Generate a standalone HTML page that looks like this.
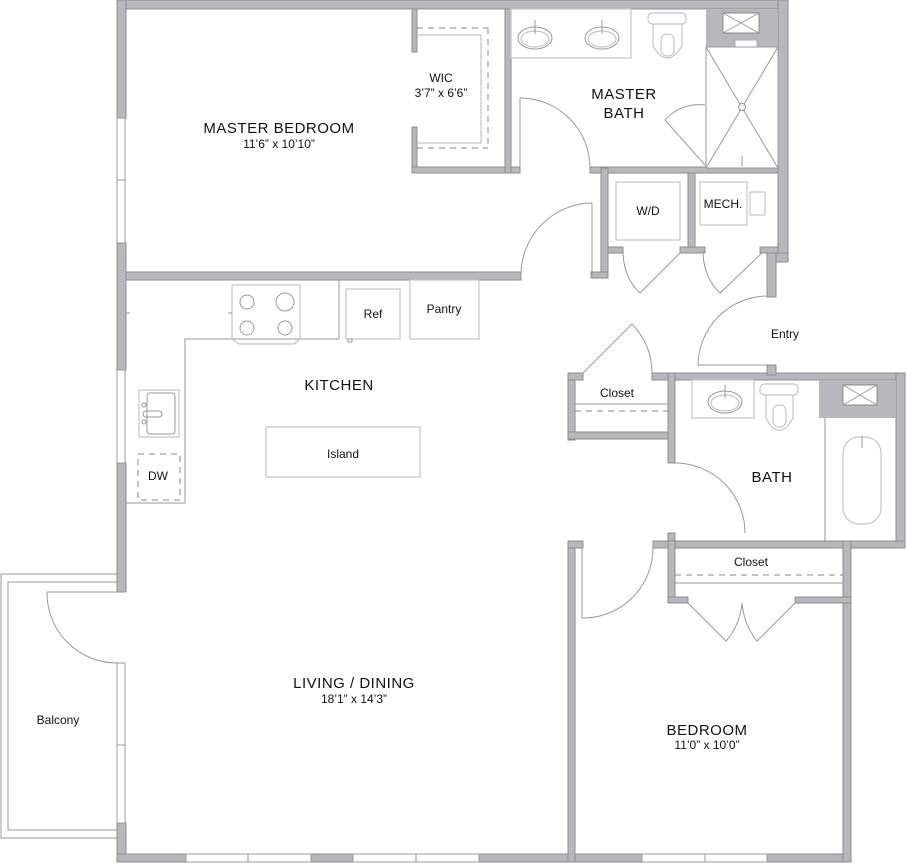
<!DOCTYPE html>
<html><head><meta charset="utf-8"><style>
html,body{margin:0;padding:0;background:#fff;}
svg{display:block;}
text{font-family:"Liberation Sans",sans-serif;fill:#111;text-anchor:middle;}
.w{fill:#b8b8bc;stroke:#8e8e92;stroke-width:1;}
.l{fill:none;stroke:#999;stroke-width:1;}
.lt{fill:none;stroke:#c4c4c4;stroke-width:1.2;}
.win{fill:#fff;stroke:#999;stroke-width:1;}
.d{fill:none;stroke:#888;stroke-width:1;stroke-dasharray:6,5;}
.big{font-size:15px;letter-spacing:0.5px;}
.sm{font-size:12px;}
</style></head><body>
<svg width="906" height="864" viewBox="0 0 906 864" xmlns="http://www.w3.org/2000/svg">
<!-- balcony -->
<path d="M117,574 H1 V838 H117" class="l" stroke-width="1.3"/>
<path d="M117,582 H8 V830 H117" class="l" stroke-width="1.3"/>
<!-- outer walls -->
<rect x="117" y="0" width="671" height="9" class="w"/>
<rect x="117" y="0" width="9" height="118" class="w"/>
<rect x="117" y="243" width="9" height="127" class="w"/>
<rect x="117" y="463" width="9" height="129" class="w"/>
<rect x="117" y="823" width="9" height="39" class="w"/>
<rect x="117" y="118" width="8" height="125" class="win"/><line x1="117" y1="180" x2="125" y2="180" class="l"/>
<rect x="117" y="370" width="8" height="93" class="win"/>
<rect x="117" y="663" width="8" height="160" class="win"/><line x1="117" y1="745" x2="125" y2="745" class="l"/>
<rect x="117" y="854" width="734" height="8" class="w"/>
<rect x="186" y="854" width="125" height="8" class="win"/><line x1="248" y1="854" x2="248" y2="862" class="l"/>
<rect x="353" y="854" width="126" height="8" class="win"/><line x1="416" y1="854" x2="416" y2="862" class="l"/>
<rect x="642" y="854" width="125" height="8" class="win"/><line x1="705" y1="854" x2="705" y2="862" class="l"/>
<rect x="778" y="0" width="10" height="262" class="w"/>
<rect x="767" y="253" width="21" height="9" class="w"/>
<rect x="767" y="253" width="9" height="44" class="w"/>
<!-- master bedroom bottom wall -->
<rect x="126" y="272" width="395" height="8" class="w"/>
<!-- WIC walls -->
<rect x="412" y="9" width="5" height="43" class="w"/>
<rect x="412" y="127" width="5" height="46" class="w"/>
<rect x="412" y="167" width="108" height="6" class="w"/>
<rect x="505" y="9" width="6" height="164" class="w"/>
<line x1="417" y1="28" x2="488" y2="28" class="d"/>
<line x1="488" y1="28" x2="488" y2="148" class="d"/>
<line x1="417" y1="148" x2="488" y2="148" class="d"/>
<path d="M417,35 H481 V143 H417" class="lt"/>
<!-- master bath -->
<rect x="590" y="167" width="188" height="6" class="w"/>
<rect x="511" y="9" width="120" height="49" class="lt" stroke="#aaa"/>
<ellipse cx="535" cy="38" rx="17" ry="11" class="l"/><ellipse cx="535" cy="39" rx="14" ry="8" class="lt"/>
<line x1="535" y1="20" x2="535" y2="34" class="l" stroke-width="2"/>
<ellipse cx="602" cy="38" rx="17" ry="11" class="l"/><ellipse cx="602" cy="39" rx="14" ry="8" class="lt"/>
<line x1="602" y1="20" x2="602" y2="34" class="l" stroke-width="2"/>
<rect x="648" y="13" width="38" height="11" rx="4" class="lt" stroke="#aaa"/>
<path d="M653,24 V46 Q667,70 682,46 V24" class="lt" stroke="#aaa"/>
<rect x="661" y="34" width="13" height="22" rx="6" class="lt"/>
<rect x="706" y="9" width="72" height="38" fill="#b8b8bc"/>
<rect x="723" y="13" width="36" height="20" fill="#fff" stroke="#888"/>
<path d="M723,13 L759,33 M759,13 L723,33" class="l"/>
<rect x="735" y="40" width="22" height="7" fill="#fff" stroke="#aaa"/>
<rect x="706" y="47" width="72" height="121" fill="#fff" stroke="#999"/>
<path d="M706,47 L778,168 M778,47 L706,168" class="l" stroke="#aaa"/>
<circle cx="742" cy="107" r="3.5" fill="#fff" stroke="#a88"/>
<line x1="742" y1="156" x2="742" y2="166" class="l" stroke-width="2"/>
<path d="M520,98 A70,70 0 0 1 590,168" class="l"/><line x1="520" y1="98" x2="520" y2="168" class="l"/>
<path d="M705,105 A45,45 0 0 0 665,120 L705,165" class="l"/>
<!-- laundry / mech -->
<rect x="601" y="168" width="7" height="110" class="w"/>
<rect x="591" y="272" width="17" height="6" class="w"/>
<rect x="608" y="247" width="15" height="6" class="w"/>
<rect x="688" y="173" width="7" height="80" class="w"/>
<rect x="680" y="247" width="25" height="6" class="w"/>
<rect x="760" y="247" width="18" height="6" class="w"/>
<rect x="616" y="182" width="64" height="58" class="lt"/>
<rect x="700" y="182" width="47" height="43" class="lt"/>
<rect x="750" y="192" width="15" height="23" class="lt"/>
<path d="M623,253 Q624,278 640,293 L680,253" class="l"/>
<path d="M703,253 Q704,278 720,293 L762,253" class="l"/>
<path d="M592,203 A72,72 0 0 0 521,275" class="l"/><line x1="592" y1="203" x2="592" y2="275" class="l"/>
<!-- entry door -->
<path d="M767,296 A70,70 0 0 0 698,365 L767,365" class="l"/>
<!-- kitchen -->
<path d="M126,503 H185 V339 H339 V280" class="l" stroke="#888"/>
<path d="M232,285 H300 V339 L294,344 H239 L232,339 Z" class="lt" stroke="#bbb"/>
<circle cx="247" cy="302" r="7" class="l"/><circle cx="285" cy="302" r="9" class="l"/>
<circle cx="247" cy="328" r="7" class="l"/><circle cx="285" cy="328" r="7" class="l"/>
<rect x="346" y="289" width="54" height="50" class="lt" stroke="#aaa"/>
<rect x="348" y="339" width="4" height="3" class="l"/>
<rect x="410" y="280" width="69" height="59" class="lt" stroke="#aaa"/>
<rect x="139" y="390" width="40" height="47" class="lt" stroke="#aaa"/>
<rect x="147" y="393" width="28" height="41" rx="3" class="l"/>
<rect x="143" y="411" width="19" height="6" rx="3" class="l"/>
<circle cx="144" cy="405" r="2" class="l"/><circle cx="144" cy="422" r="2" class="l"/>
<rect x="138" y="454" width="42" height="46" class="d" stroke="#bbb" stroke-dasharray="5,4"/>
<rect x="266" y="427" width="154" height="50" class="lt" stroke="#aaa"/>
<line x1="126" y1="313" x2="130" y2="313" class="l"/><line x1="228" y1="313" x2="232" y2="313" class="l"/>
<!-- balcony door -->
<path d="M47,592 A70,70 0 0 0 117,663" class="l"/><line x1="47" y1="592" x2="117" y2="592" class="l"/>
<!-- closet by bath -->
<rect x="568" y="373" width="7" height="67" class="w"/>
<rect x="568" y="373" width="15" height="7" class="w"/>
<rect x="568" y="432" width="107" height="7" class="w"/>
<rect x="652" y="373" width="253" height="7" class="w"/>
<rect x="767" y="365" width="9" height="10" class="w"/>
<line x1="575" y1="404" x2="668" y2="404" class="l"/>
<line x1="575" y1="411" x2="668" y2="411" class="d"/>
<path d="M583,373 L632,324 Q652,345 652,373" class="l"/>
<!-- bath -->
<rect x="668" y="373" width="7" height="90" class="w"/>
<rect x="668" y="533" width="7" height="15" class="w"/>
<rect x="896" y="373" width="9" height="175" class="w"/>
<rect x="653" y="541" width="252" height="7" class="w"/>
<path d="M675,463 A70,70 0 0 1 745,533" class="l"/><line x1="675" y1="463" x2="675" y2="463" class="l"/>
<rect x="692" y="380" width="62" height="38" class="lt" stroke="#aaa"/>
<ellipse cx="725" cy="402" rx="17" ry="11" class="l"/><ellipse cx="725" cy="403" rx="14" ry="8" class="lt"/>
<line x1="725" y1="385" x2="725" y2="398" class="l" stroke-width="2"/>
<rect x="760" y="384" width="38" height="11" rx="4" class="lt" stroke="#aaa"/>
<path d="M766,395 V418 Q779,443 793,418 V395" class="lt" stroke="#aaa"/>
<rect x="773" y="405" width="13" height="22" rx="6" class="lt"/>
<rect x="819" y="380" width="77" height="38" fill="#b8b8bc"/>
<rect x="843" y="385" width="34" height="20" fill="#fff" stroke="#888"/>
<path d="M843,385 L877,405 M877,385 L843,405" class="l"/>
<line x1="825" y1="418" x2="825" y2="541" class="l"/>
<rect x="843" y="437" width="38" height="87" rx="16" class="lt" stroke="#bbb"/>
<line x1="862" y1="436" x2="862" y2="448" class="l" stroke-width="2"/>
<!-- bedroom -->
<rect x="568" y="541" width="7" height="321" class="w"/>
<rect x="568" y="541" width="15" height="7" class="w"/>
<rect x="843" y="541" width="8" height="321" class="w"/>
<rect x="668" y="541" width="7" height="62" class="w"/>
<rect x="668" y="597" width="20" height="6" class="w"/>
<rect x="795" y="597" width="56" height="6" class="w"/>
<path d="M653,548 A70,70 0 0 1 582,618 L582,548" class="l"/>
<line x1="675" y1="575" x2="843" y2="575" class="d"/>
<line x1="675" y1="583" x2="843" y2="583" class="l"/>
<path d="M688,603 L726,641 Q740,625 742,603 Q744,625 757,641 L795,603" class="l"/>
<!-- labels -->
<text x="279" y="133" class="big">MASTER BEDROOM</text>
<text x="279" y="148" class="sm">11’6” x 10’10”</text>
<text x="441" y="82" class="sm">WIC</text>
<text x="441" y="97" class="sm">3’7” x 6’6”</text>
<text x="624" y="99" class="big">MASTER</text>
<text x="624" y="118" class="big">BATH</text>
<text x="648" y="215" class="sm">W/D</text>
<text x="723" y="208" class="sm">MECH.</text>
<text x="785" y="338" class="sm">Entry</text>
<text x="339" y="390" class="big">KITCHEN</text>
<text x="373" y="318" class="sm">Ref</text>
<text x="444" y="313" class="sm">Pantry</text>
<text x="158" y="480" class="sm">DW</text>
<text x="343" y="458" class="sm">Island</text>
<text x="617" y="397" class="sm">Closet</text>
<text x="772" y="482" class="big">BATH</text>
<text x="751" y="566" class="sm">Closet</text>
<text x="354" y="688" class="big">LIVING / DINING</text>
<text x="354" y="703" class="sm">18’1” x 14’3”</text>
<text x="58" y="724" class="sm">Balcony</text>
<text x="707" y="735" class="big">BEDROOM</text>
<text x="707" y="749" class="sm">11’0” x 10’0”</text>
</svg>
</body></html>
